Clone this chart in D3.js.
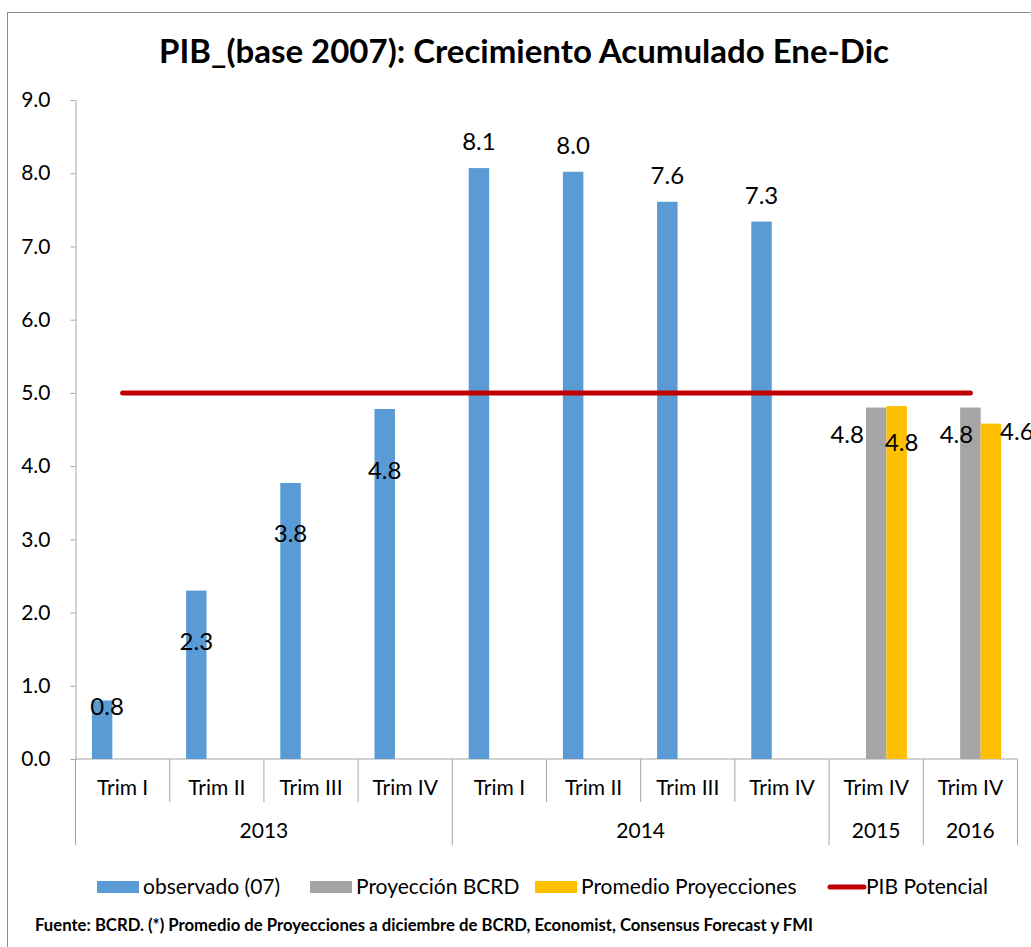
<!DOCTYPE html>
<html>
<head>
<meta charset="utf-8">
<script src="https://cdn.jsdelivr.net/npm/d3@7"></script>
<style>
  body { margin: 0; background: #fff; }
  text { font-family: Lato, "Open Sans", sans-serif; fill: #000; }
</style>
</head>
<body>
<script>
// Chart data
var categories = ["Trim I", "Trim II", "Trim III", "Trim IV", "Trim I", "Trim II", "Trim III", "Trim IV", "Trim IV", "Trim IV"];
var years = ["2013", "2013", "2013", "2013", "2014", "2014", "2014", "2014", "2015", "2016"];
var observado = [0.8, 2.3, 3.77, 4.78, 8.07, 8.02, 7.61, 7.34, null, null];
var proyBCRD = [null, null, null, null, null, null, null, null, 4.8, 4.8];
var promedio = [null, null, null, null, null, null, null, null, 4.82, 4.58];
var pibPotencial = [5, 5, 5, 5, 5, 5, 5, 5, 5, 5];
var yTicks = [0, 1, 2, 3, 4, 5, 6, 7, 8, 9];

var width = 1031, height = 947;

var svg = d3.select("body").append("svg")
  .attr("width", width)
  .attr("height", height);

svg.append("rect").attr("width", width).attr("height", height).attr("fill", "#fff");

// chart border (runs off the right / bottom edge)
svg.append("rect")
  .attr("x", 7.5).attr("y", 12.5)
  .attr("width", 1040).attr("height", 960)
  .attr("fill", "none")
  .attr("stroke", "#8c8c8c");

svg.append("text")
  .attr("x", 524).attr("y", 63)
  .attr("text-anchor", "middle")
  .style("font-size", "33px")
  .style("font-weight", "bold")
  .text("PIB_(base 2007): Crecimiento Acumulado Ene-Dic");

// scales
var x = d3.scaleBand()
  .domain(d3.range(categories.length))
  .range([75.5, 1017.5]);

var series = [
  {key: "obs", name: "observado (07)", values: observado, color: "#5B9BD5"},
  {key: "bcrd", name: "Proyección BCRD", values: proyBCRD, color: "#A5A5A5"},
  {key: "prom", name: "Promedio Proyecciones", values: promedio, color: "#FFC000"}
];

var xSub = d3.scaleBand()
  .domain(series.map(function (s) { return s.key; }))
  .range([0, x.bandwidth()])
  .paddingOuter(0.8);

var y = d3.scaleLinear()
  .domain([0, 9])
  .range([759, 100]);

// y axis
var yAxis = svg.append("g")
  .attr("transform", "translate(75.5,0)")
  .call(d3.axisLeft(y).tickValues(yTicks).tickFormat(d3.format(".1f"))
    .tickSize(5).tickSizeOuter(0).tickPadding(20));
yAxis.select(".domain").attr("stroke", "#a6a6a6");
yAxis.selectAll(".tick line").attr("stroke", "#a6a6a6");
yAxis.selectAll(".tick text")
  .style("font-family", "Lato, sans-serif")
  .style("font-size", "21px")
  .attr("fill", "#000");

// category axis (multi-level)
var catAxis = svg.append("g");
catAxis.append("line")
  .attr("x1", x.range()[0]).attr("x2", x.range()[1])
  .attr("y1", y(0)).attr("y2", y(0))
  .attr("stroke", "#a6a6a6");

d3.range(categories.length + 1).forEach(function (i) {
  var yearEdge = i === 0 || i === categories.length || years[i] !== years[i - 1];
  var xx = i < categories.length ? x(i) : x.range()[1];
  catAxis.append("line")
    .attr("x1", xx).attr("x2", xx)
    .attr("y1", y(0)).attr("y2", yearEdge ? 845 : 802)
    .attr("stroke", "#a6a6a6");
});

catAxis.selectAll("text.cat")
  .data(categories)
  .enter().append("text")
  .attr("class", "cat")
  .attr("x", function (d, i) { return x(i) + x.bandwidth() / 2; })
  .attr("y", 795)
  .attr("text-anchor", "middle")
  .style("font-size", "21px")
  .text(function (d) { return d; });

var yearGroups = d3.groups(years.map(function (yr, i) { return {yr: yr, i: i}; }), function (d) { return d.yr; });
catAxis.selectAll("text.year")
  .data(yearGroups)
  .enter().append("text")
  .attr("class", "year")
  .attr("x", function (g) {
    var first = g[1][0].i, last = g[1][g[1].length - 1].i;
    return (x(first) + x(last) + x.bandwidth()) / 2;
  })
  .attr("y", 838)
  .attr("text-anchor", "middle")
  .style("font-size", "21px")
  .text(function (g) { return g[0]; });

// bars
var barData = [];
series.forEach(function (s) {
  s.values.forEach(function (v, i) {
    if (v !== null) barData.push({key: s.key, i: i, v: v, color: s.color});
  });
});

svg.append("g").selectAll("rect")
  .data(barData)
  .enter().append("rect")
  .attr("x", function (d) { return x(d.i) + xSub(d.key); })
  .attr("y", function (d) { return y(d.v); })
  .attr("width", xSub.bandwidth())
  .attr("height", function (d) { return y(0) - y(d.v); })
  .attr("fill", function (d) { return d.color; });

// PIB Potencial line
var line = d3.line()
  .x(function (d, i) { return x(i) + x.bandwidth() / 2; })
  .y(function (d) { return y(d); });

svg.append("path")
  .datum(pibPotencial)
  .attr("d", line)
  .attr("fill", "none")
  .attr("stroke", "#C00000")
  .attr("stroke-width", 5)
  .attr("stroke-linecap", "round");

// data labels, some were moved by hand in the original
var nudge = {
  "obs0": [5, 33], "obs1": [0, 77], "obs2": [0, 77], "obs3": [0, 88],
  "bcrd8": [-29, 53], "bcrd9": [-14, 53],
  "prom8": [5, 63], "prom9": [26, 34]
};

svg.append("g").selectAll("text")
  .data(barData)
  .enter().append("text")
  .attr("x", function (d) {
    var n = nudge[d.key + d.i] || [0, 0];
    return x(d.i) + xSub(d.key) + xSub.bandwidth() / 2 + n[0];
  })
  .attr("y", function (d) {
    var n = nudge[d.key + d.i] || [0, 0];
    return y(d.v) - 18 + n[1];
  })
  .attr("text-anchor", "middle")
  .style("font-size", "24px")
  .text(function (d) { return d3.format(".1f")(d.v); });

// legend
var legendItems = series.map(function (s) { return {name: s.name, color: s.color, type: "bar"}; })
  .concat([{name: "PIB Potencial", color: "#C00000", type: "line"}]);
var legendX = [97, 310, 535, 828];

var legend = svg.append("g");
legendItems.forEach(function (d, i) {
  var g = legend.append("g").attr("transform", "translate(" + legendX[i] + ",887)");
  if (d.type === "bar") {
    g.append("rect").attr("x", 0).attr("y", -6).attr("width", 42).attr("height", 12).attr("fill", d.color);
  } else {
    g.append("line").attr("x1", 2).attr("x2", 36).attr("y1", 0).attr("y2", 0)
      .attr("stroke", d.color).attr("stroke-width", 5).attr("stroke-linecap", "round");
  }
  g.append("text")
    .attr("x", d.type === "bar" ? 46 : 38)
    .attr("y", 7)
    .style("font-size", "21px")
    .text(d.name);
});

svg.append("text")
  .attr("x", 35).attr("y", 931)
  .style("font-size", "16.7px")
  .style("font-weight", "bold")
  .text("Fuente: BCRD. (*) Promedio de Proyecciones a diciembre de BCRD, Economist, Consensus Forecast y FMI");
</script>
</body>
</html>
